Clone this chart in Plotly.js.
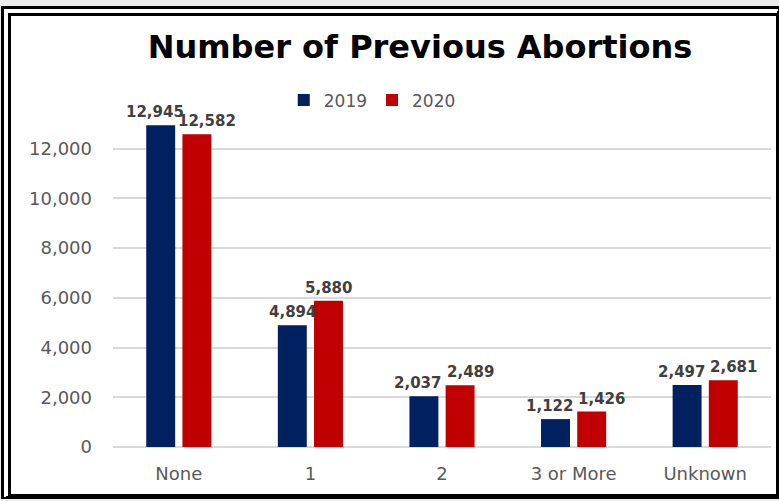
<!DOCTYPE html>
<html>
<head>
<meta charset="utf-8">
<script src="https://cdn.plot.ly/plotly-3.0.1.min.js"></script>
<style>
  html, body { margin: 0; padding: 0; background: #ececec; }
  #wrap { position: relative; width: 779px; height: 501px; overflow: hidden; }
  #frame { position: absolute; left: 1px; top: 6px; width: 778px; height: 493px; box-sizing: border-box;
           background: #ffffff; border-top: 10px double #000; border-left: 10px double #000;
           border-right: 3px solid #000; border-bottom: 5px solid #000; z-index: 0; }
  #chart { position: absolute; left: 0; top: 0; width: 779px; height: 501px; z-index: 1; }
</style>
</head>
<body>
<div id="wrap">
  <div id="frame"></div>
  <div id="chart"></div>
</div>
<script>
const categories = ["None", "1", "2", "3 or More", "Unknown"];
const values2019 = [12945, 4894, 2037, 1122, 2497];
const values2020 = [12582, 5880, 2489, 1426, 2681];
const seriesNames = ["2019", "2020"];
const seriesColors = ["#002060", "#C00000"];
const yTickVals = [0, 2000, 4000, 6000, 8000, 10000, 12000];

const labelFont = { family: "DejaVu Sans, sans-serif", stretch: "condensed", weight: "bold", size: 15, color: "#404040" };
const tickFontFamily = "DejaVu Sans, sans-serif";

// layout geometry (styling constants)
const W = 779, H = 501;
const M = { l: 113, r: 8, t: 104, b: 54 };
const yMax = 13800;
const BARGAP = 0.45, BARGROUPGAP = 0.2;

const fmt = v => v.toLocaleString("en-US");

const data = [values2019, values2020].map((vals, i) => ({
  type: "bar", name: seriesNames[i], x: categories, y: vals,
  marker: { color: seriesColors[i] }, hoverinfo: "skip"
}));

// Data labels as annotations anchored on each bar's value; nudged apart when a pair would collide
const catPx = (W - M.l - M.r) / categories.length;
const pxPerUnit = (H - M.t - M.b) / yMax;
const barOffsetPx = catPx * (1 - BARGAP) / 4;   // centre of each bar relative to category centre
const annotations = [];
categories.forEach((c, k) => {
  const a = values2019[k], b = values2020[k];
  const collide = Math.abs(a - b) * pxPerUnit < 16;
  [a, b].forEach((v, i) => {
    const side = i === 0 ? -1 : 1;
    const nudge = collide ? (i === 0 ? -6 : 10) : 0;
    annotations.push({
      x: c, y: v, xref: "x", yref: "y", text: fmt(v), showarrow: false,
      xanchor: "center", yanchor: "bottom",
      xshift: side * barOffsetPx + nudge, yshift: 2,
      font: labelFont
    });
  });
});

const layout = {
  width: W, height: H,
  paper_bgcolor: "rgba(0,0,0,0)", plot_bgcolor: "rgba(0,0,0,0)",
  margin: M,
  title: {
    text: "<b>Number of Previous Abortions</b>",
    font: { family: "DejaVu Sans, sans-serif", size: 32, color: "#000000" },
    xref: "container", x: 420 / W, xanchor: "center",
    yref: "container", y: 1 - 47 / H, yanchor: "middle"
  },
  barmode: "group", bargap: BARGAP, bargroupgap: BARGROUPGAP,
  showlegend: true,
  legend: {
    orientation: "h", x: 0.394, xanchor: "center", y: 1.01, yanchor: "middle",
    font: { family: tickFontFamily, size: 17, color: "#595959" },
    bgcolor: "rgba(0,0,0,0)", traceorder: "normal"
  },
  xaxis: {
    type: "category", showgrid: false, zeroline: false, showline: false, ticks: "",
    ticklabelstandoff: 14,
    tickfont: { family: tickFontFamily, size: 18, color: "#595959" }
  },
  yaxis: {
    range: [0, yMax], tickvals: yTickVals,
    ticktext: yTickVals.map(fmt),
    showgrid: true, gridcolor: "#d9d9d9", gridwidth: 2,
    zeroline: true, zerolinecolor: "#d9d9d9", zerolinewidth: 2,
    showline: false, ticks: "", ticklabelstandoff: 20,
    tickfont: { family: tickFontFamily, size: 18, color: "#595959" }
  },
  annotations: annotations,
  font: { family: tickFontFamily }
};

Plotly.newPlot("chart", data, layout, { displayModeBar: false, staticPlot: true });
</script>
</body>
</html>
